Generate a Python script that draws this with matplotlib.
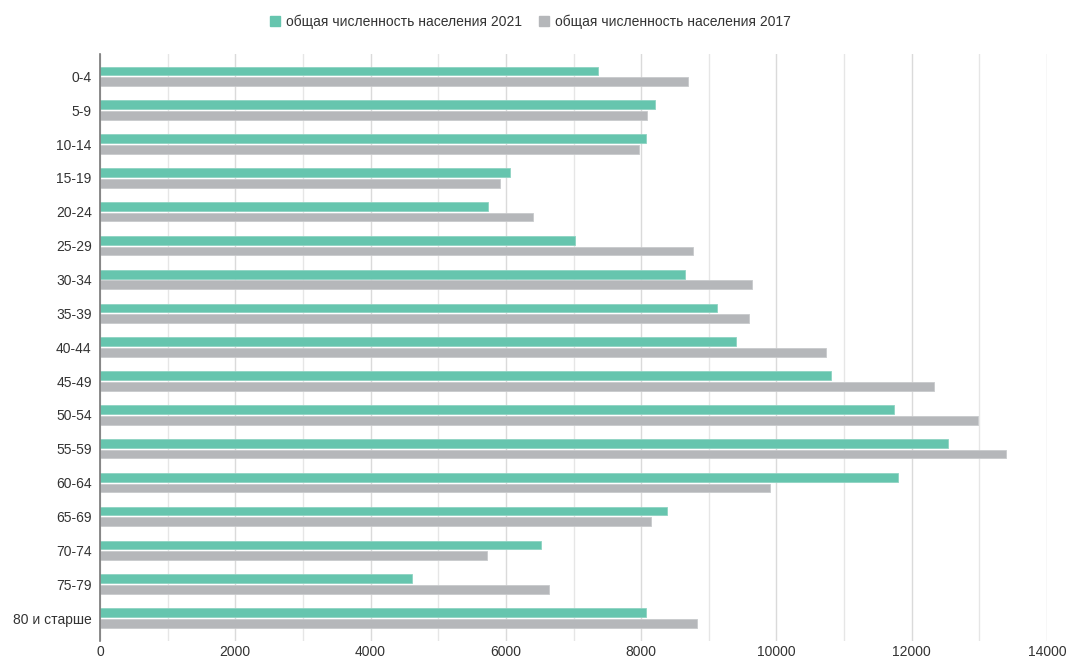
import matplotlib.pyplot as plt
from matplotlib.ticker import MultipleLocator
from matplotlib.lines import Line2D
import numpy as np

plt.rcParams['font.family'] = ['Liberation Sans', 'DejaVu Sans']

# age groups and population counts
age_groups = ['0-4', '5-9', '10-14', '15-19', '20-24', '25-29', '30-34', '35-39',
              '40-44', '45-49', '50-54', '55-59', '60-64', '65-69', '70-74',
              '75-79', '80 и старше']
pop_2021 = [7362, 8200, 8072, 6057, 5732, 7022, 8654, 9121,
            9402, 10799, 11740, 12536, 11792, 8388, 6516, 4618, 8068]
pop_2017 = [8693, 8091, 7969, 5920, 6397, 8762, 9639, 9600,
            10734, 12325, 12975, 13390, 9910, 8142, 5727, 6634, 8823]
series_names = ['общая численность населения 2021', 'общая численность населения 2017']

green = '#66c5ae'
grey = '#b5b7ba'
text_col = '#333333'

fig = plt.figure(figsize=(10.67, 6.64), dpi=100)
ax = fig.add_axes([0.0937, 0.0346, 0.8876, 0.8841])

y = np.arange(len(age_groups))
h = 0.26
ax.barh(y - 0.158, pop_2021, height=h, color=green, edgecolor='#8fd3c2',
        linewidth=0.6, zorder=3)
ax.barh(y + 0.158, pop_2017, height=h, color=grey, edgecolor='#c8cacc',
        linewidth=0.6, zorder=3)

ax.set_xlim(0, 14000)
ax.set_ylim(16.68, -0.66)
ax.set_yticks(y)
ax.set_yticklabels(age_groups)
ax.xaxis.set_major_locator(MultipleLocator(2000))
ax.xaxis.set_minor_locator(MultipleLocator(1000))

# vertical gridlines every 1000
ax.grid(axis='x', which='major', color='#dadada', linewidth=1, zorder=0)
ax.grid(axis='x', which='minor', color='#e6e6e6', linewidth=1, zorder=0)
ax.set_axisbelow(True)

for s in ['top', 'right', 'bottom']:
    ax.spines[s].set_visible(False)
ax.spines['left'].set_color('#777777')
ax.spines['left'].set_linewidth(1.2)
ax.spines['left'].set_zorder(4)

ax.tick_params(axis='both', which='both', length=0, labelsize=10, colors=text_col)
ax.tick_params(axis='y', pad=6)
ax.tick_params(axis='x', pad=3)

handles = [Line2D([], [], marker='s', linestyle='none', markersize=7,
                  markerfacecolor=c, markeredgecolor=c) for c in (green, grey)]
fig.legend(handles, series_names, loc='center', bbox_to_anchor=(0.497, 0.967),
           ncol=2, frameon=False, fontsize=10, handlelength=0.8,
           handletextpad=0.4, columnspacing=1.2, labelcolor=text_col)

fig.savefig('out.png', dpi=100)
